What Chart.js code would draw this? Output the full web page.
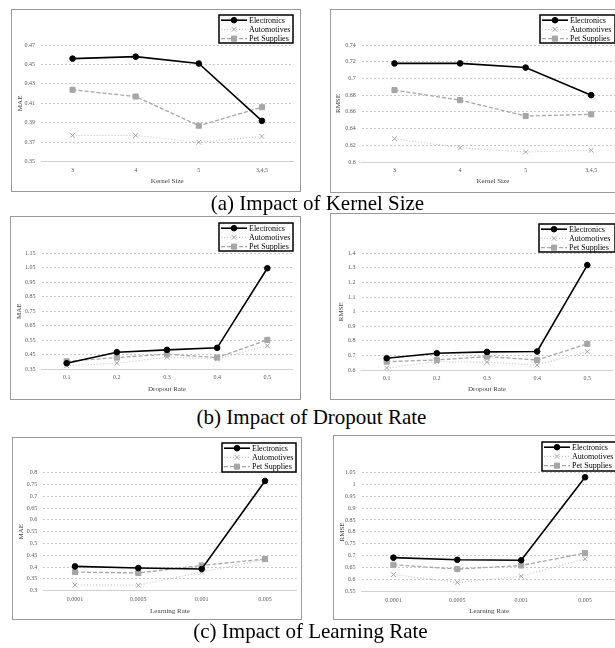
<!DOCTYPE html>
<html><head><meta charset="utf-8">
<script src="https://cdn.jsdelivr.net/npm/chart.js@4/dist/chart.umd.min.js"></script>
<style>
html,body{margin:0;padding:0;background:#fff;}
#page{position:relative;width:615px;height:648px;overflow:hidden;background:#fff;}
.box{position:absolute;border:1px solid #9a9a9a;box-sizing:border-box;background:#fff;}
canvas{position:absolute;}
.cap{position:absolute;width:400px;text-align:center;font-family:"Liberation Serif";font-size:21px;line-height:21px;color:#000;white-space:nowrap;}
</style></head>
<body><div id="page"></div>
<script>
// ---- data ----
const seriesNames = ['Electronics', 'Automotives', 'Pet Supplies'];
const kernelSizes = ['3', '4', '5', '3,4,5'];
const dropoutRates = ['0.1', '0.2', '0.3', '0.4', '0.5'];
const learningRates = ['0.0001', '0.0005', '0.001', '0.005'];

const kernelMAE_Electronics = [0.456, 0.458, 0.451, 0.392];
const kernelMAE_Automotives = [0.377, 0.377, 0.370, 0.376];
const kernelMAE_PetSupplies = [0.424, 0.417, 0.387, 0.406];

const kernelRMSE_Electronics = [0.718, 0.718, 0.713, 0.680];
const kernelRMSE_Automotives = [0.628, 0.617, 0.612, 0.614];
const kernelRMSE_PetSupplies = [0.686, 0.674, 0.655, 0.657];

const dropoutMAE_Electronics = [0.392, 0.468, 0.484, 0.498, 1.047];
const dropoutMAE_Automotives = [0.375, 0.392, 0.433, 0.421, 0.512];
const dropoutMAE_PetSupplies = [0.405, 0.431, 0.454, 0.431, 0.553];

const dropoutRMSE_Electronics = [0.681, 0.715, 0.724, 0.727, 1.319];
const dropoutRMSE_Automotives = [0.614, 0.657, 0.653, 0.634, 0.726];
const dropoutRMSE_PetSupplies = [0.657, 0.669, 0.692, 0.669, 0.779];

const lrMAE_Electronics = [0.403, 0.396, 0.392, 0.765];
const lrMAE_Automotives = [0.324, 0.323, 0.379, 0.432];
const lrMAE_PetSupplies = [0.379, 0.375, 0.407, 0.434];

const lrRMSE_Electronics = [0.692, 0.683, 0.681, 1.029];
const lrRMSE_Automotives = [0.621, 0.588, 0.614, 0.687];
const lrRMSE_PetSupplies = [0.662, 0.644, 0.659, 0.711];

const kernelMAETicks = [0.35, 0.37, 0.39, 0.41, 0.43, 0.45, 0.47];
const kernelRMSETicks = [0.6, 0.62, 0.64, 0.66, 0.68, 0.7, 0.72, 0.74];
const dropoutMAETicks = [0.35, 0.45, 0.55, 0.65, 0.75, 0.85, 0.95, 1.05, 1.15];
const dropoutRMSETicks = [0.6, 0.7, 0.8, 0.9, 1, 1.1, 1.2, 1.3, 1.4];
const lrMAETicks = [0.3, 0.35, 0.4, 0.45, 0.5, 0.55, 0.6, 0.65, 0.7, 0.75, 0.8];
const lrRMSETicks = [0.55, 0.6, 0.65, 0.7, 0.75, 0.8, 0.85, 0.9, 0.95, 1, 1.05];

const captions = ['(a) Impact of Kernel Size', '(b) Impact of Dropout Rate', '(c) Impact of Learning Rate'];

// ---- layout (page px) ----
const panels = [
  {cats: kernelSizes, series: [kernelMAE_Electronics, kernelMAE_Automotives, kernelMAE_PetSupplies], ticks: kernelMAETicks,
   yTitle: 'MAE', xTitle: 'Kernel Size', box: [11, 9, 290, 183], plot: [41, 45, 293.5, 161.7], leg: [219, 15, 74, 28], yt: 9, xt: 172},
  {cats: kernelSizes, series: [kernelRMSE_Electronics, kernelRMSE_Automotives, kernelRMSE_PetSupplies], ticks: kernelRMSETicks,
   yTitle: 'RMSE', xTitle: 'Kernel Size', box: [330, 9, 300, 184], plot: [361.7, 45, 624, 162], leg: [540, 15, 75, 28], yt: 8.5, xt: 172},
  {cats: dropoutRates, series: [dropoutMAE_Electronics, dropoutMAE_Automotives, dropoutMAE_PetSupplies], ticks: dropoutMAETicks,
   yTitle: 'MAE', xTitle: 'Dropout Rate', box: [10, 216, 291, 184], plot: [41.6, 253.3, 292.4, 369.3], leg: [219, 223, 74, 28], yt: 9.5, xt: 173},
  {cats: dropoutRates, series: [dropoutRMSE_Electronics, dropoutRMSE_Automotives, dropoutRMSE_PetSupplies], ticks: dropoutRMSETicks,
   yTitle: 'RMSE', xTitle: 'Dropout Rate', box: [330, 213, 295, 187], plot: [361.6, 253.3, 612.4, 370], leg: [539, 224, 76, 28], yt: 11.5, xt: 176},
  {cats: learningRates, series: [lrMAE_Electronics, lrMAE_Automotives, lrMAE_PetSupplies], ticks: lrMAETicks,
   yTitle: 'MAE', xTitle: 'Learning Rate', box: [12, 437, 290, 183], plot: [43.3, 472.7, 296.7, 590.7], leg: [222, 443, 74, 29], yt: 8.7, xt: 174.5},
  {cats: learningRates, series: [lrRMSE_Electronics, lrRMSE_Automotives, lrRMSE_PetSupplies], ticks: lrRMSETicks,
   yTitle: 'RMSE', xTitle: 'Learning Rate', box: [333, 435, 295, 185], plot: [361.5, 472.3, 617, 591.5], leg: [542, 442, 75, 29], yt: 9.3, xt: 176.5}
];
const captionPos = [[317.5, 192.5], [311.5, 407], [310.5, 621]];

const seriesStyles = [
  {borderColor: '#000000', borderWidth: 1.6, borderDash: [], pointStyle: 'circle', pointRadius: 2.8,
   pointBackgroundColor: '#000000', pointBorderColor: '#000000', pointBorderWidth: 1},
  {borderColor: '#c4c4c4', borderWidth: 1.1, borderDash: [1, 2], pointStyle: 'crossRot', pointRadius: 3.4,
   pointBackgroundColor: '#a6a6a6', pointBorderColor: '#a6a6a6', pointBorderWidth: 1},
  {borderColor: '#a6a6a6', borderWidth: 1.3, borderDash: [4, 2], pointStyle: 'rect', pointRadius: 3.6,
   pointBackgroundColor: '#a6a6a6', pointBorderColor: '#a6a6a6', pointBorderWidth: 1}
];

function drawMarker(ctx, style, x, y) {
  const r = style.pointRadius;
  ctx.save();
  ctx.fillStyle = style.pointBackgroundColor;
  ctx.strokeStyle = style.pointBorderColor;
  ctx.lineWidth = style.pointBorderWidth;
  ctx.setLineDash([]);
  ctx.beginPath();
  if (style.pointStyle === 'circle') {
    ctx.arc(x, y, r, 0, Math.PI * 2); ctx.fill(); ctx.stroke();
  } else if (style.pointStyle === 'rect') {
    const s = r * Math.SQRT1_2; ctx.rect(x - s, y - s, 2 * s, 2 * s); ctx.fill(); ctx.stroke();
  } else {
    const s = r * Math.SQRT1_2;
    ctx.moveTo(x - s, y - s); ctx.lineTo(x + s, y + s);
    ctx.moveTo(x + s, y - s); ctx.lineTo(x - s, y + s); ctx.stroke();
  }
  ctx.restore();
}

const boxLegend = {
  id: 'boxLegend',
  afterDraw(chart, args, opts) {
    const ctx = chart.ctx;
    const [x, y, w, h] = opts.rect;
    ctx.save();
    ctx.fillStyle = '#ffffff'; ctx.fillRect(x, y, w, h);
    ctx.strokeStyle = '#000000'; ctx.lineWidth = 1.5; ctx.setLineDash([]);
    ctx.strokeRect(x, y, w, h);
    chart.data.datasets.forEach((ds, i) => {
      const cy = y + 5.2 + i * 9.2;
      ctx.beginPath();
      ctx.setLineDash(ds.borderDash || []);
      ctx.strokeStyle = ds.borderColor; ctx.lineWidth = ds.borderWidth;
      ctx.moveTo(x + 2, cy); ctx.lineTo(x + 28, cy); ctx.stroke();
      ctx.setLineDash([]);
      drawMarker(ctx, ds, x + 15, cy);
      ctx.fillStyle = '#000000';
      ctx.font = '8px "Liberation Serif"';
      ctx.textBaseline = 'middle'; ctx.textAlign = 'left';
      ctx.fillText(ds.label, x + 30, cy + 0.5);
    });
    ctx.restore();
  }
};

const page = document.getElementById('page');
panels.forEach(p => {
  const [bx, by, bw, bh] = p.box;
  const div = document.createElement('div');
  div.className = 'box';
  Object.assign(div.style, {left: bx + 'px', top: by + 'px', width: bw + 'px', height: bh + 'px'});
  page.appendChild(div);
  const cv = document.createElement('canvas');
  cv.width = bw; cv.height = bh;
  Object.assign(cv.style, {left: bx + 'px', top: by + 'px', width: bw + 'px', height: bh + 'px'});
  page.appendChild(cv);
  const pl = p.plot[0] - bx, pt = p.plot[1] - by, pr = p.plot[2] - bx, pb = p.plot[3] - by;
  const titleFont = {family: 'Liberation Serif', size: 7};
  const tickFont = {family: 'Liberation Serif', size: 6};
  new Chart(cv, {
    type: 'line',
    data: {
      labels: p.cats,
      datasets: p.series.map((vals, i) => Object.assign({label: seriesNames[i], data: vals, fill: false, tension: 0}, seriesStyles[i]))
    },
    options: {
      responsive: false, animation: false, devicePixelRatio: 1,
      layout: {padding: {left: 0, top: pt, right: bw - pr, bottom: 0}},
      plugins: {legend: {display: false}, tooltip: {enabled: false}, boxLegend: {rect: [p.leg[0] - bx, p.leg[1] - by, p.leg[2], p.leg[3]]}},
      scales: {
        x: {
          type: 'category', offset: true,
          grid: {display: false, drawTicks: false},
          border: {display: true, color: '#d0d0d0', width: 1},
          ticks: {font: tickFont, color: '#595959', padding: 5, maxRotation: 0, autoSkip: false},
          title: {display: true, text: p.xTitle, font: titleFont, color: '#404040', padding: {top: 0, bottom: bh - p.xt - 4.2}},
          afterFit: s => { s.height = bh - pb; }
        },
        y: {
          type: 'linear', min: p.ticks[0], max: p.ticks[p.ticks.length - 1],
          afterBuildTicks: s => { s.ticks = p.ticks.map(v => ({value: v})); },
          grid: {color: '#c8c8c8', lineWidth: 1, drawTicks: false},
          border: {display: false, dash: [2, 2]},
          ticks: {font: tickFont, color: '#595959', padding: 6, callback: v => String(+v.toFixed(2))},
          title: {display: true, text: p.yTitle, font: titleFont, color: '#404040', padding: {top: p.yt - 4.2, bottom: 0}},
          afterFit: s => { s.width = pl; }
        }
      }
    },
    plugins: [boxLegend]
  });
});
captions.forEach((t, i) => {
  const d = document.createElement('div');
  d.className = 'cap';
  d.textContent = t;
  d.style.left = (captionPos[i][0] - 200) + 'px';
  d.style.top = captionPos[i][1] + 'px';
  page.appendChild(d);
});
</script>
</body></html>
